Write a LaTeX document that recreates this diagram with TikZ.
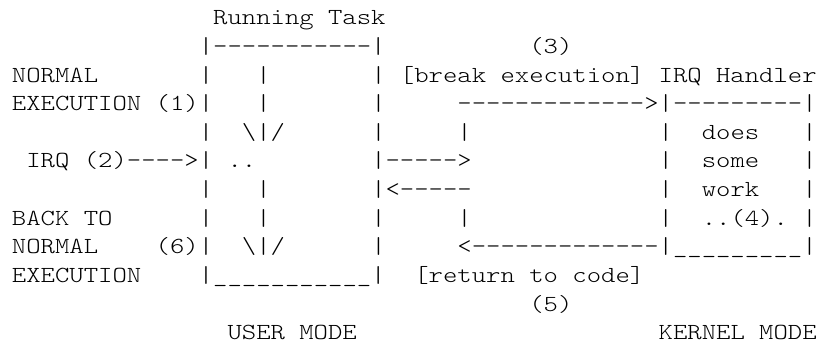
\documentclass[tikz,border=0pt]{standalone}
\usepackage{fontspec}
% Light typewriter face, widened to a 14.37pt character cell
\newfontfamily\asciifont{lmmonolt10-regular.otf}[FakeStretch=1.19]
\tikzset{
  txt/.style={anchor=base west, inner sep=0pt, outer sep=0pt, text=black,
    font=\asciifont\fontsize{23pt}{28pt}\selectfont}
}
% one token of the character grid: name, column, row, text
\newcommand\tok[4]{\node[txt] (#1) at (#2,#3) {#4};}
\begin{document}
\begin{tikzpicture}
\useasboundingbox (0pt,0pt) rectangle (832pt,-347pt);
\begin{scope}[shift={(12pt,-25pt)}, x=14.37pt, y=-28.6pt]
  % row 0
  \tok{title}{14}{0}{Running Task}
  % row 1
  \tok{taskTop}{13}{1}{|-----------|}
  \tok{stepThree}{36}{1}{(3)}
  % row 2
  \tok{normalA}{0}{2}{NORMAL}
  \tok{barA}{13}{2}{|}
  \tok{midA}{17}{2}{|}
  \tok{rightA}{25}{2}{|}
  \tok{breakLbl}{27}{2}{[break execution]}
  \tok{handler}{45}{2}{IRQ Handler}
  % row 3
  \tok{execA}{0}{3}{EXECUTION (1)|}
  \tok{midB}{17}{3}{|}
  \tok{rightB}{25}{3}{|}
  \tok{toKernel}{31}{3}{------------->|---------|}
  % row 4
  \tok{barC}{13}{4}{|}
  \tok{flowA}{16}{4}{\textbackslash|/}
  \tok{rightC}{25}{4}{|}
  \tok{linkC}{31}{4}{|}
  \tok{hLeftC}{45}{4}{|}
  \tok{does}{48}{4}{does}
  \tok{hRightC}{55}{4}{|}
  % row 5
  \tok{irq}{1}{5}{IRQ (2)---->|}
  \tok{dots}{15}{5}{..}
  \tok{outArrow}{25}{5}{|----->}
  \tok{hLeftD}{45}{5}{|}
  \tok{some}{48}{5}{some}
  \tok{hRightD}{55}{5}{|}
  % row 6
  \tok{barE}{13}{6}{|}
  \tok{midE}{17}{6}{|}
  \tok{inArrow}{25}{6}{|<-----}
  \tok{hLeftE}{45}{6}{|}
  \tok{work}{48}{6}{work}
  \tok{hRightE}{55}{6}{|}
  % row 7
  \tok{backTo}{0}{7}{BACK TO}
  \tok{barF}{13}{7}{|}
  \tok{midF}{17}{7}{|}
  \tok{rightF}{25}{7}{|}
  \tok{linkF}{31}{7}{|}
  \tok{hLeftF}{45}{7}{|}
  \tok{stepFour}{48}{7}{..(4).}
  \tok{hRightF}{55}{7}{|}
  % row 8
  \tok{normalB}{0}{8}{NORMAL}
  \tok{stepSix}{10}{8}{(6)|}
  \tok{flowB}{16}{8}{\textbackslash|/}
  \tok{rightG}{25}{8}{|}
  \tok{toUser}{31}{8}{<-------------|\_\_\_\_\_\_\_\_\_|}
  % row 9
  \tok{execB}{0}{9}{EXECUTION}
  \tok{taskBottom}{13}{9}{|\_\_\_\_\_\_\_\_\_\_\_|}
  \tok{returnLbl}{28}{9}{[return to code]}
  % row 10
  \tok{stepFive}{36}{10}{(5)}
  % row 11
  \tok{userMode}{15}{11}{USER MODE}
  \tok{kernelMode}{45}{11}{KERNEL MODE}
\end{scope}
\end{tikzpicture}
\end{document}
